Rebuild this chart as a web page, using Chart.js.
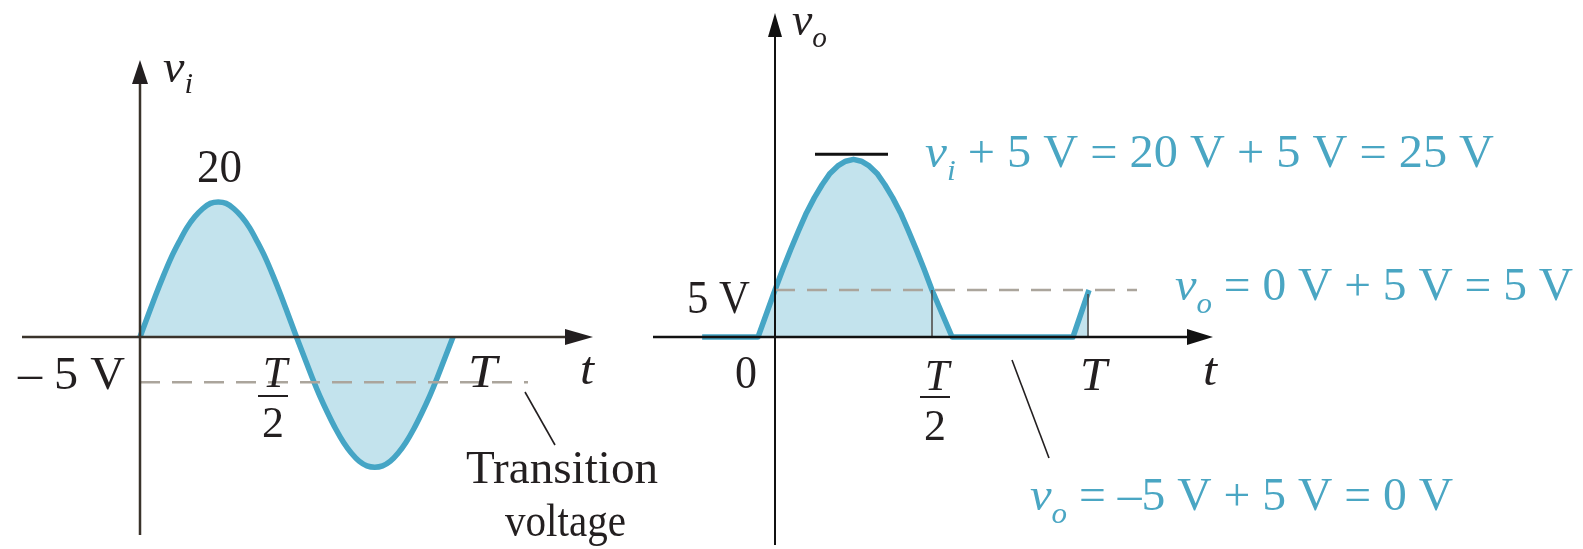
<!DOCTYPE html>
<html><head><meta charset="utf-8">
<script src="https://cdn.jsdelivr.net/npm/chart.js@4.4.0/dist/chart.umd.min.js"></script>
<style>
html,body{margin:0;padding:0;background:#fff;width:1583px;height:549px;overflow:hidden}
canvas{position:absolute;left:0;top:0}
</style></head><body>
<canvas id="cA" width="1583" height="549"></canvas>
<canvas id="cB" width="1583" height="549"></canvas>
<script>
// ---------- data ----------
// input waveform v_i (time in fractions of T, sketch units where the peak is 20)
const tIn = [0,0.025,0.05,0.075,0.1,0.125,0.15,0.175,0.2,0.225,0.25,0.275,0.3,0.325,0.35,0.375,0.4,0.425,0.45,0.475,0.5,
             0.525,0.55,0.575,0.6,0.625,0.65,0.675,0.7,0.725,0.75,0.775,0.8,0.825,0.85,0.875,0.9,0.925,0.95,0.975,1];
const vIn = [0,3.1,6.2,9.1,11.8,14.1,16.2,17.8,19.0,19.8,20,19.8,19.0,17.8,16.2,14.1,11.8,9.1,6.2,3.1,0,
             -3.0,-6.0,-8.8,-11.3,-13.6,-15.6,-17.2,-18.4,-19.1,-19.3,-19.1,-18.4,-17.2,-15.6,-13.6,-11.3,-8.8,-6.0,-3.0,0];
// output waveform v_o (sketch units where the 5 V level is 5)
const tOut = [-0.232,-0.054,0,0.025,0.05,0.075,0.1,0.125,0.15,0.175,0.2,0.225,0.25,0.275,0.3,0.325,0.35,0.375,0.4,0.425,0.45,0.475,0.5,0.564,0.949,1.0];
const vOut = [0,0,5,7.2,9.3,11.3,13.2,14.8,16.2,17.4,18.2,18.7,18.9,18.7,18.2,17.4,16.2,14.8,13.2,11.3,9.3,7.2,5,0,0,5];
const inPeakLabel = "20";
const transitionLevel = -6.7;   // dashed "– 5 V" level as drawn
const transitionLabel = "\u2013 5 V";
const outLevel = 5;             // dashed 5 V level
const outLevelLabel = "5 V";
const outPeak = 18.9;
const xTickHalf = 0.5, xTickFull = 1;
const annTop = [" + 5 V = 20 V + 5 V = 25 V"];
const annMid = [" = 0 V + 5 V = 5 V"];
const annBot = [" = \u20135 V + 5 V = 0 V"];

// ---------- styling ----------
const SERIF = '"Liberation Serif","DejaVu Serif",serif';
const F = (s, it) => (it ? 'italic ' : '') + s + 'px ' + SERIF;
const BLUE = '#45a5c5', FILL = '#c3e3ed', TEAL = '#4aa6c3', INK = '#231f20', DASH = '#aba59c';

function rich(ctx, segs, x, base, width, color){
  ctx.save();
  let total = 0;
  for (const s of segs){ ctx.font = s.f; total += ctx.measureText(s.t).width; }
  ctx.translate(x, base);
  ctx.scale(width / total, 1);
  ctx.fillStyle = color; ctx.textBaseline = 'alphabetic'; ctx.textAlign = 'left';
  let cx = 0;
  for (const s of segs){ ctx.font = s.f; ctx.fillText(s.t, cx, s.dy || 0); cx += ctx.measureText(s.t).width; }
  ctx.restore();
}
function line(ctx, x1, y1, x2, y2, color, w, dash){
  ctx.save(); ctx.beginPath(); ctx.strokeStyle = color; ctx.lineWidth = w;
  ctx.setLineDash(dash || []); ctx.moveTo(x1, y1); ctx.lineTo(x2, y2); ctx.stroke(); ctx.restore();
}
function tri(ctx, pts, color){
  ctx.save(); ctx.beginPath(); ctx.fillStyle = color;
  ctx.moveTo(pts[0][0], pts[0][1]); ctx.lineTo(pts[1][0], pts[1][1]); ctx.lineTo(pts[2][0], pts[2][1]);
  ctx.closePath(); ctx.fill(); ctx.restore();
}
function frac(ctx, cx, tBase, barY, twoBase, color){
  ctx.save(); ctx.fillStyle = color; ctx.textAlign = 'center'; ctx.textBaseline = 'alphabetic';
  ctx.font = F(44, true); ctx.fillText('T', cx + 2, tBase);
  ctx.font = F(44); ctx.fillText('2', cx, twoBase);
  ctx.restore();
  line(ctx, cx - 15, barY, cx + 15, barY, color, 2);
}

const ptsIn = tIn.map((t, i) => ({x: t, y: vIn[i]}));
const ptsOut = tOut.map((t, i) => ({x: t, y: vOut[i]}));

const common = (xmin, xmax, ymin, ymax) => ({
  responsive: false, animation: false, devicePixelRatio: 1, events: [],
  layout: {padding: 0, autoPadding: false},
  plugins: {legend: {display: false}, tooltip: {enabled: false}},
  elements: {point: {radius: 0}},
  scales: {
    x: {type: 'linear', display: false, min: xmin, max: xmax},
    y: {type: 'linear', display: false, min: ymin, max: ymax}
  }
});

// ---------- left chart: v_i ----------
const drawA = {
  id: 'drawA',
  afterDatasetsDraw(chart){
    const ctx = chart.ctx, xs = chart.scales.x, ys = chart.scales.y;
    const x0 = xs.getPixelForValue(0), y0 = ys.getPixelForValue(0);
    const AX = '#3a332b';
    // dashed transition level
    const yd = ys.getPixelForValue(transitionLevel);
    line(ctx, x0, yd, 528, yd, DASH, 2.5, [20, 12]);
    // axes
    line(ctx, 22, y0, 570, y0, AX, 2.5);
    tri(ctx, [[593, y0], [565, y0 - 8], [565, y0 + 8]], INK);
    line(ctx, x0, 535, x0, 78, AX, 2.5);
    tri(ctx, [[x0, 60], [x0 - 8, 84], [x0 + 8, 84]], INK);
    // labels
    rich(ctx, [{t: 'v', f: F(47, true)}, {t: 'i', f: F(30, true), dy: 11}], 163, 82, 30, INK);
    rich(ctx, [{t: inPeakLabel, f: F(46)}], 197, 182, 45, INK);
    rich(ctx, [{t: transitionLabel, f: F(46)}], 18, 389, 107, INK);
    frac(ctx, 273, 387, 396, 437, INK);
    rich(ctx, [{t: 'T', f: F(46, true)}], 468, 387, 29, INK);
    rich(ctx, [{t: 't', f: F(46, true)}], 580, 384, 14, INK);
    line(ctx, 525, 392, 555, 445, INK, 1.6);
    rich(ctx, [{t: 'Transition', f: F(46)}], 466, 483, 192, INK);
    rich(ctx, [{t: 'voltage', f: F(46)}], 505, 536, 121, INK);
  }
};
new Chart(document.getElementById('cA'), {
  type: 'line',
  data: {datasets: [{data: ptsIn, borderColor: BLUE, backgroundColor: FILL, borderWidth: 5.5,
    fill: 'origin', cubicInterpolationMode: 'monotone', borderJoinStyle: 'round', clip: false}]},
  options: common(-140 / 313, (1583 - 140) / 313, -212 / 6.75, 337 / 6.75),
  plugins: [drawA]
});

// ---------- right chart: v_o ----------
const drawB = {
  id: 'drawB',
  afterDatasetsDraw(chart){
    const ctx = chart.ctx, xs = chart.scales.x, ys = chart.scales.y;
    const x0 = xs.getPixelForValue(0), y0 = ys.getPixelForValue(0);
    const y5 = ys.getPixelForValue(outLevel);
    const xh = xs.getPixelForValue(xTickHalf), xf = xs.getPixelForValue(xTickFull);
    // dashed 5 V level
    line(ctx, x0, y5, 1137, y5, DASH, 2.5, [20, 12]);
    // thin drop lines at T/2 and T
    line(ctx, xh, y5, xh, y0, '#4a4540', 1.5);
    line(ctx, xf - 1, y5 + 4, xf - 1, y0, '#4a4540', 1.5);
    // peak marker
    const yp = ys.getPixelForValue(outPeak) - 5;
    line(ctx, 815, yp, 888, yp, '#111', 3);
    // axes
    line(ctx, 653, y0, 1192, y0, '#111', 2.5);
    tri(ctx, [[1213, y0], [1187, y0 - 8], [1187, y0 + 8]], '#111');
    line(ctx, x0, 545, x0, 32, '#111', 2);
    tri(ctx, [[x0, 13], [x0 - 7, 37], [x0 + 7, 37]], '#111');
    // labels
    rich(ctx, [{t: 'v', f: F(47, true)}, {t: 'o', f: F(30, true), dy: 12}], 792, 35, 35, INK);
    rich(ctx, [{t: outLevelLabel, f: F(46)}], 687, 313, 63, INK);
    rich(ctx, [{t: '0', f: F(46)}], 735, 388, 22, INK);
    frac(ctx, 935, 390, 397, 440, INK);
    rich(ctx, [{t: 'T', f: F(46, true)}], 1080, 390, 27, INK);
    rich(ctx, [{t: 't', f: F(46, true)}], 1203, 385, 14, INK);
    line(ctx, 1012, 360, 1049, 458, INK, 1.6);
    rich(ctx, [{t: 'v', f: F(47, true)}, {t: 'i', f: F(30, true), dy: 13}, {t: annTop[0], f: F(46)}], 925, 167, 569, TEAL);
    rich(ctx, [{t: 'v', f: F(47, true)}, {t: 'o', f: F(30, true), dy: 13}, {t: annMid[0], f: F(46)}], 1175, 300, 398, TEAL);
    rich(ctx, [{t: 'v', f: F(47, true)}, {t: 'o', f: F(30, true), dy: 13}, {t: annBot[0], f: F(46)}], 1030, 510, 423, TEAL);
  }
};
new Chart(document.getElementById('cB'), {
  type: 'line',
  data: {datasets: [{data: ptsOut, borderColor: BLUE, backgroundColor: FILL, borderWidth: 5.5,
    fill: 'origin', tension: 0, borderJoinStyle: 'round', clip: false}]},
  options: common(-775 / 314, (1583 - 775) / 314, -212 / 9.4, 337 / 9.4),
  plugins: [drawB]
});
</script>
</body></html>
